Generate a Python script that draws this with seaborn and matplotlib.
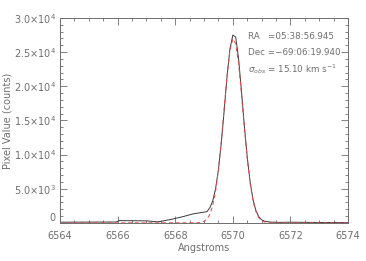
import numpy as np
import pandas as pd
import matplotlib
matplotlib.use("Agg")
import matplotlib.pyplot as plt
from matplotlib.ticker import MultipleLocator, FixedLocator, FixedFormatter
import seaborn as sns

obs_wave = [6564.0, 6565.0, 6565.95, 6566.05, 6567.0, 6567.4, 6567.9, 6568.3, 6568.6, 6569.1,
            6569.2, 6569.3, 6569.4, 6569.5, 6569.6, 6569.7, 6569.8, 6569.9, 6570.0, 6570.1,
            6570.2, 6570.3, 6570.4, 6570.5, 6570.6, 6570.7, 6570.8, 6570.9, 6571.0, 6571.1,
            6571.3, 6571.6, 6572.0, 6573.0, 6574.0]
obs_counts = [100, 120, 130, 330, 300, 150, 550, 950, 1300, 1650,
              2200, 3200, 5000, 7800, 11800, 16500, 21500, 25500, 27500, 27200,
              24000, 19200, 14200, 9600, 6000, 3400, 1800, 900, 450, 250,
              120, 80, 100, 60, 40]

# gaussian fit curve
fit_wave = [6564.0, 6568.8, 6568.9, 6569.0, 6569.1, 6569.2, 6569.3, 6569.4, 6569.5, 6569.6,
            6569.7, 6569.8, 6569.9, 6570.0, 6570.1, 6570.2, 6570.3, 6570.4, 6570.5, 6570.6,
            6570.7, 6570.8, 6570.9, 6571.0, 6571.1, 6571.2, 6571.4, 6574.0]
fit_counts = [0, 20, 85, 230, 550, 1230, 2500, 4620, 7800, 12000,
              16900, 21600, 25300, 26950, 26200, 23300, 18800, 13900, 9400, 5760,
              3230, 1650, 770, 330, 130, 45, 5, 0]

ytick_vals = [0, 5000, 10000, 15000, 20000, 25000, 30000]
ytick_labels = ["0", r"5.0$\times$10$^{3}$", r"1.0$\times$10$^{4}$", r"1.5$\times$10$^{4}$",
                r"2.0$\times$10$^{4}$", r"2.5$\times$10$^{4}$", r"3.0$\times$10$^{4}$"]
xtick_vals = [6564, 6566, 6568, 6570, 6572, 6574]

info_lines = ["RA   =05:38:56.945", "Dec =\u221269:06:19.940",
              r"$\sigma_{obs}$ = 15.10 km s$^{-1}$"]

sns.set_style("ticks")
plt.rcParams["font.family"] = ["DejaVu Sans"]
plt.rcParams["mathtext.fontset"] = "dejavusans"

grey = "#6e6e6e"
df_obs = pd.DataFrame({"wave": obs_wave, "counts": obs_counts})
df_fit = pd.DataFrame({"wave": fit_wave, "counts": fit_counts})

fig = plt.figure(figsize=(3.66, 2.61), dpi=100)
ax = fig.add_axes([0.164, 0.146, 0.787, 0.785])

sns.lineplot(data=df_obs, x="wave", y="counts", ax=ax, color="#3a3a3a", linewidth=0.7)
sns.lineplot(data=df_fit, x="wave", y="counts", ax=ax, color="#e8484e", linewidth=0.7,
             linestyle=(0, (4, 3)))

ax.set_xlim(6564, 6574)
ax.set_ylim(0, 30000)
ax.xaxis.set_major_locator(FixedLocator(xtick_vals))
ax.xaxis.set_minor_locator(MultipleLocator(0.5))
ax.yaxis.set_major_locator(FixedLocator(ytick_vals))
ax.yaxis.set_major_formatter(FixedFormatter(ytick_labels))
ax.yaxis.set_minor_locator(MultipleLocator(1000))

ax.tick_params(which="both", direction="in", top=True, right=True, colors=grey,
               labelsize=7, width=0.6)
ax.tick_params(axis="x", pad=6)
ax.tick_params(axis="y", pad=3)
ax.tick_params(which="major", length=5)
ax.tick_params(which="minor", length=2.5)
# the zero label sits a little above the axis, as in the reference
ax.get_yticklabels()[0].set_va("bottom")
for sp in ax.spines.values():
    sp.set_color(grey)
    sp.set_linewidth(0.7)

ax.set_xlabel("Angstroms", fontsize=7, color=grey, labelpad=1)
ax.set_ylabel("Pixel Value (counts)", fontsize=7, color=grey, labelpad=1)

for i, line in enumerate(info_lines):
    ax.text(0.652, 0.91 - i * 0.079, line, transform=ax.transAxes, fontsize=6.3,
            color=grey, va="center", ha="left")

fig.savefig("out.png", dpi=100)
